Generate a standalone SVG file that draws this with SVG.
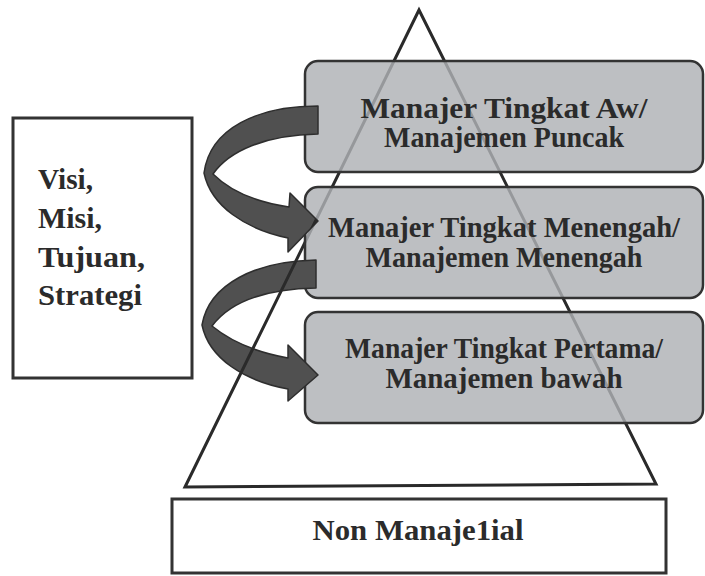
<svg xmlns="http://www.w3.org/2000/svg" xmlns:xlink="http://www.w3.org/1999/xlink" width="705" height="576" viewBox="0 0 705 576">
<style>
.t{font-family:"Liberation Serif","DejaVu Serif",serif;font-weight:bold;font-size:29px;fill:#2b2b2b}
.c{text-anchor:middle}
.lvl{fill:#aeb1b5;fill-opacity:0.82;stroke:#333;stroke-width:2.5}
.plain{fill:#fff;stroke:#333;stroke-width:3}
.tri{fill:none;stroke:#2a2a2a;stroke-width:3;stroke-linejoin:miter}
.arr{fill:#505050;stroke:#2e2e2e;stroke-width:1.5;stroke-linejoin:round}
</style>
<defs>
<path id="triPath" d="M185,487 L419,10 L656,484 Z"/>
<path id="a1" d="M318,106 C258,106 210,128 204,173 C211,206 245,229 288,238 L288,252 L318,221 L290,193 L289,207 C255,202 229,190 213,174 C229,151 265,135 318,134 Z"/>
<path id="a2" d="M316,260 C256,261 209,284 202,325 C209,359 245,381 288,389 L288,401 L318,375 L288,345 L288,358 C255,352 229,340 212,326 C229,303 262,289 316,288 Z"/>
<clipPath id="arrClip"><use xlink:href="#a1"/><use xlink:href="#a2"/></clipPath>
</defs>
<rect width="705" height="576" fill="#fff"/>
<g id="pyramid"><use xlink:href="#triPath" class="tri"/></g>
<g id="left-box">
<rect class="plain" x="13" y="118" width="179" height="260"/>
<text class="t" x="38" y="189" textLength="55" lengthAdjust="spacingAndGlyphs">Visi,</text>
<text class="t" x="38" y="228" textLength="64" lengthAdjust="spacingAndGlyphs">Misi,</text>
<text class="t" x="38" y="267" textLength="107" lengthAdjust="spacingAndGlyphs">Tujuan,</text>
<text class="t" x="38" y="305" textLength="104" lengthAdjust="spacingAndGlyphs">Strategi</text>
</g>
<g id="top-level">
<rect class="lvl" x="305" y="61" width="398" height="111" rx="13"/>
<text class="t c" x="504" y="118" textLength="287" lengthAdjust="spacingAndGlyphs">Manajer Tingkat Aw/</text>
<text class="t c" x="504" y="147" textLength="240" lengthAdjust="spacingAndGlyphs">Manajemen Puncak</text>
</g>
<g id="middle-level">
<rect class="lvl" x="305" y="187" width="398" height="111" rx="13"/>
<text class="t c" x="504" y="237" textLength="352" lengthAdjust="spacingAndGlyphs">Manajer Tingkat Menengah/</text>
<text class="t c" x="504" y="267" textLength="277" lengthAdjust="spacingAndGlyphs">Manajemen Menengah</text>
</g>
<g id="first-level">
<rect class="lvl" x="305" y="312" width="398" height="111" rx="13"/>
<text class="t c" x="504" y="358" textLength="318" lengthAdjust="spacingAndGlyphs">Manajer Tingkat Pertama/</text>
<text class="t c" x="504" y="388" textLength="237" lengthAdjust="spacingAndGlyphs">Manajemen bawah</text>
</g>
<g id="non-managerial">
<rect class="plain" x="172" y="499" width="494" height="74"/>
<text class="t c" x="418" y="540" textLength="211" lengthAdjust="spacingAndGlyphs">Non Manaje1ial</text>
</g>
<g id="connectors">
<use xlink:href="#a1" class="arr"/>
<use xlink:href="#a2" class="arr"/>
<use xlink:href="#triPath" class="tri" clip-path="url(#arrClip)"/>
</g>
</svg>
